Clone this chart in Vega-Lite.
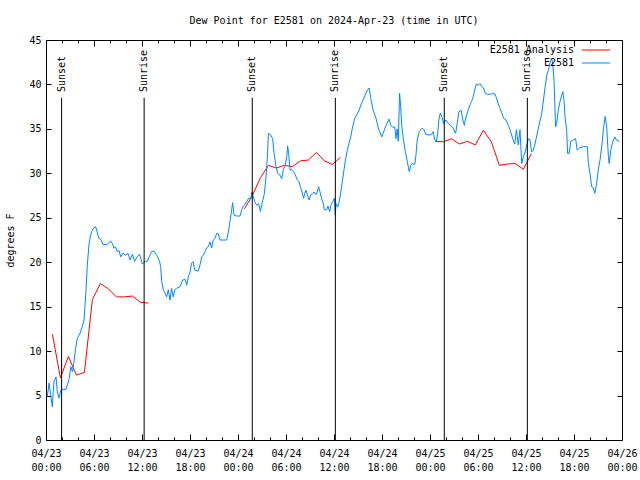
{
"$schema": "https://vega.github.io/schema/vega-lite/v6.json",
"width": 576, "height": 400,
"autosize": "none",
"padding": {"left": 46, "top": 40, "right": 18, "bottom": 40},
"background": "white",
"title": {"text": "Dew Point for E2581 on 2024-Apr-23 (time in UTC)", "font": "DejaVu Sans Mono", "fontSize": 10, "fontWeight": "normal", "color": "black", "offset": 9, "anchor": "middle"},
"config": {"view": {"stroke": "black", "strokeWidth": 1}, "font": "DejaVu Sans Mono",
  "axis": {"labelFont": "DejaVu Sans Mono", "labelFontSize": 10, "labelColor": "black", "titleFont": "DejaVu Sans Mono", "titleFontSize": 10, "titleFontWeight": "normal", "titleColor": "black", "domain": false, "grid": false, "tickColor": "black", "tickWidth": 1}},
"datasets": {
"ana": [
{"t":"2024-04-23T00:48Z","v":11.9,"seg":1},{"t":"2024-04-23T01:48Z","v":7.0,"seg":1},{"t":"2024-04-23T02:48Z","v":9.4,"seg":1},{"t":"2024-04-23T03:48Z","v":7.3,"seg":1},{"t":"2024-04-23T04:48Z","v":7.6,"seg":1},{"t":"2024-04-23T05:48Z","v":15.8,"seg":1},{"t":"2024-04-23T06:48Z","v":17.6,"seg":1},{"t":"2024-04-23T07:48Z","v":17.0,"seg":1},{"t":"2024-04-23T08:48Z","v":16.1,"seg":1},{"t":"2024-04-23T09:48Z","v":16.1,"seg":1},{"t":"2024-04-23T10:48Z","v":16.2,"seg":1},{"t":"2024-04-23T11:48Z","v":15.5,"seg":1},{"t":"2024-04-23T12:48Z","v":15.4,"seg":1},
{"t":"2024-04-24T00:48Z","v":26.0,"seg":2},{"t":"2024-04-24T01:48Z","v":27.5,"seg":2},{"t":"2024-04-24T02:48Z","v":29.5,"seg":2},{"t":"2024-04-24T03:48Z","v":30.9,"seg":2},{"t":"2024-04-24T04:48Z","v":30.6,"seg":2},{"t":"2024-04-24T05:48Z","v":30.9,"seg":2},{"t":"2024-04-24T06:48Z","v":30.75,"seg":2},{"t":"2024-04-24T07:48Z","v":31.4,"seg":2},{"t":"2024-04-24T08:48Z","v":31.5,"seg":2},{"t":"2024-04-24T09:48Z","v":32.35,"seg":2},{"t":"2024-04-24T10:48Z","v":31.4,"seg":2},{"t":"2024-04-24T11:48Z","v":31.0,"seg":2},{"t":"2024-04-24T12:48Z","v":31.8,"seg":2},
{"t":"2024-04-25T00:40Z","v":33.6,"seg":3},{"t":"2024-04-25T01:40Z","v":33.55,"seg":3},{"t":"2024-04-25T02:40Z","v":33.9,"seg":3},{"t":"2024-04-25T03:40Z","v":33.3,"seg":3},{"t":"2024-04-25T04:40Z","v":33.6,"seg":3},{"t":"2024-04-25T05:40Z","v":33.2,"seg":3},{"t":"2024-04-25T06:40Z","v":34.85,"seg":3},{"t":"2024-04-25T07:40Z","v":33.55,"seg":3},{"t":"2024-04-25T08:40Z","v":30.9,"seg":3},{"t":"2024-04-25T09:40Z","v":31.05,"seg":3},{"t":"2024-04-25T10:40Z","v":31.1,"seg":3},{"t":"2024-04-25T11:40Z","v":30.45,"seg":3},{"t":"2024-04-25T12:40Z","v":32.2,"seg":3}
],
"obs": [
{"t":"2024-04-23T00:10Z","v":4.9},{"t":"2024-04-23T00:23Z","v":6.4},{"t":"2024-04-23T00:35Z","v":5.1},{"t":"2024-04-23T00:47Z","v":3.75},{"t":"2024-04-23T01:00Z","v":6.6},{"t":"2024-04-23T01:15Z","v":7.1},{"t":"2024-04-23T01:25Z","v":5.4},{"t":"2024-04-23T01:38Z","v":4.7},{"t":"2024-04-23T01:50Z","v":5.6},{"t":"2024-04-23T02:02Z","v":5.7},{"t":"2024-04-23T02:30Z","v":5.7},{"t":"2024-04-23T02:40Z","v":6.2},{"t":"2024-04-23T02:54Z","v":6.9},{"t":"2024-04-23T03:06Z","v":8.25},{"t":"2024-04-23T03:18Z","v":7.7},{"t":"2024-04-23T03:30Z","v":8.8},{"t":"2024-04-23T03:42Z","v":10.3},{"t":"2024-04-23T03:54Z","v":11.4},{"t":"2024-04-23T04:15Z","v":12.0},{"t":"2024-04-23T04:32Z","v":12.75},{"t":"2024-04-23T04:45Z","v":13.5},{"t":"2024-04-23T04:58Z","v":16.3},{"t":"2024-04-23T05:10Z","v":19.7},{"t":"2024-04-23T05:23Z","v":22.1},{"t":"2024-04-23T05:35Z","v":23.1},{"t":"2024-04-23T05:47Z","v":23.6},{"t":"2024-04-23T06:00Z","v":23.9},{"t":"2024-04-23T06:12Z","v":24.0},{"t":"2024-04-23T06:24Z","v":23.4},{"t":"2024-04-23T06:36Z","v":22.7},{"t":"2024-04-23T06:54Z","v":22.5},{"t":"2024-04-23T07:06Z","v":22.0},{"t":"2024-04-23T07:40Z","v":22.0},{"t":"2024-04-23T08:05Z","v":22.4},{"t":"2024-04-23T08:18Z","v":22.1},{"t":"2024-04-23T08:30Z","v":21.6},{"t":"2024-04-23T08:42Z","v":21.7},{"t":"2024-04-23T08:54Z","v":21.2},{"t":"2024-04-23T09:08Z","v":21.3},{"t":"2024-04-23T09:20Z","v":20.6},{"t":"2024-04-23T09:36Z","v":21.0},{"t":"2024-04-23T09:58Z","v":20.8},{"t":"2024-04-23T10:15Z","v":21.0},{"t":"2024-04-23T10:30Z","v":20.25},{"t":"2024-04-23T10:48Z","v":20.9},{"t":"2024-04-23T11:05Z","v":20.1},{"t":"2024-04-23T11:24Z","v":20.6},{"t":"2024-04-23T11:42Z","v":20.9},{"t":"2024-04-23T12:02Z","v":19.8},{"t":"2024-04-23T12:24Z","v":20.1},{"t":"2024-04-23T12:40Z","v":20.1},{"t":"2024-04-23T12:54Z","v":20.6},{"t":"2024-04-23T13:12Z","v":21.2},{"t":"2024-04-23T13:30Z","v":21.25},{"t":"2024-04-23T13:50Z","v":20.8},{"t":"2024-04-23T14:10Z","v":20.2},{"t":"2024-04-23T14:20Z","v":19.5},{"t":"2024-04-23T14:28Z","v":17.8},{"t":"2024-04-23T14:40Z","v":16.9},{"t":"2024-04-23T14:53Z","v":16.5},{"t":"2024-04-23T15:05Z","v":16.1},{"t":"2024-04-23T15:17Z","v":16.9},{"t":"2024-04-23T15:30Z","v":15.75},{"t":"2024-04-23T15:42Z","v":17.05},{"t":"2024-04-23T15:54Z","v":16.1},{"t":"2024-04-23T16:06Z","v":16.9},{"t":"2024-04-23T16:18Z","v":17.05},{"t":"2024-04-23T16:45Z","v":17.25},{"t":"2024-04-23T17:05Z","v":18.0},{"t":"2024-04-23T17:23Z","v":18.07},{"t":"2024-04-23T17:36Z","v":17.4},{"t":"2024-04-23T17:48Z","v":18.4},{"t":"2024-04-23T18:00Z","v":18.9},{"t":"2024-04-23T18:12Z","v":19.9},{"t":"2024-04-23T18:24Z","v":20.05},{"t":"2024-04-23T18:36Z","v":19.1},{"t":"2024-04-23T19:03Z","v":19.0},{"t":"2024-04-23T19:15Z","v":19.7},{"t":"2024-04-23T19:28Z","v":20.6},{"t":"2024-04-23T19:40Z","v":20.8},{"t":"2024-04-23T19:53Z","v":21.2},{"t":"2024-04-23T20:05Z","v":21.6},{"t":"2024-04-23T20:18Z","v":21.75},{"t":"2024-04-23T20:30Z","v":22.3},{"t":"2024-04-23T20:42Z","v":21.6},{"t":"2024-04-23T20:54Z","v":22.5},{"t":"2024-04-23T21:08Z","v":22.7},{"t":"2024-04-23T21:20Z","v":23.25},{"t":"2024-04-23T21:32Z","v":23.2},{"t":"2024-04-23T21:45Z","v":22.5},{"t":"2024-04-23T22:35Z","v":22.5},{"t":"2024-04-23T22:48Z","v":23.4},{"t":"2024-04-23T23:00Z","v":24.6},{"t":"2024-04-23T23:12Z","v":25.9},{"t":"2024-04-23T23:20Z","v":26.7},{"t":"2024-04-23T23:30Z","v":25.3},{"t":"2024-04-23T23:50Z","v":25.2},
{"t":"2024-04-24T00:15Z","v":25.2},{"t":"2024-04-24T00:28Z","v":25.9},{"t":"2024-04-24T00:40Z","v":26.3},{"t":"2024-04-24T00:47Z","v":26.4},{"t":"2024-04-24T01:05Z","v":26.8},{"t":"2024-04-24T01:20Z","v":27.2},{"t":"2024-04-24T01:36Z","v":27.2},{"t":"2024-04-24T01:45Z","v":27.9},{"t":"2024-04-24T01:54Z","v":27.4},{"t":"2024-04-24T02:06Z","v":26.8},{"t":"2024-04-24T02:20Z","v":26.4},{"t":"2024-04-24T02:35Z","v":26.6},{"t":"2024-04-24T02:48Z","v":25.7},{"t":"2024-04-24T03:00Z","v":26.6},{"t":"2024-04-24T03:18Z","v":27.75},{"t":"2024-04-24T03:30Z","v":29.6},{"t":"2024-04-24T03:42Z","v":32.25},{"t":"2024-04-24T03:48Z","v":34.5},{"t":"2024-04-24T04:06Z","v":34.3},{"t":"2024-04-24T04:20Z","v":33.9},{"t":"2024-04-24T04:30Z","v":32.25},{"t":"2024-04-24T04:45Z","v":30.75},{"t":"2024-04-24T04:58Z","v":30.0},{"t":"2024-04-24T05:15Z","v":29.8},{"t":"2024-04-24T05:28Z","v":29.4},{"t":"2024-04-24T05:40Z","v":30.4},{"t":"2024-04-24T05:54Z","v":30.9},{"t":"2024-04-24T06:06Z","v":31.9},{"t":"2024-04-24T06:12Z","v":33.1},{"t":"2024-04-24T06:20Z","v":32.25},{"t":"2024-04-24T06:30Z","v":30.4},{"t":"2024-04-24T06:45Z","v":30.4},{"t":"2024-04-24T06:58Z","v":30.2},{"t":"2024-04-24T07:10Z","v":29.8},{"t":"2024-04-24T07:24Z","v":29.3},{"t":"2024-04-24T07:36Z","v":29.1},{"t":"2024-04-24T07:48Z","v":28.5},{"t":"2024-04-24T08:00Z","v":27.9},{"t":"2024-04-24T08:12Z","v":27.2},{"t":"2024-04-24T08:20Z","v":27.75},{"t":"2024-04-24T08:30Z","v":28.1},{"t":"2024-04-24T08:40Z","v":27.6},{"t":"2024-04-24T08:54Z","v":27.0},{"t":"2024-04-24T09:06Z","v":27.6},{"t":"2024-04-24T09:20Z","v":27.75},{"t":"2024-04-24T09:30Z","v":27.9},{"t":"2024-04-24T09:45Z","v":27.6},{"t":"2024-04-24T09:53Z","v":27.9},{"t":"2024-04-24T10:05Z","v":28.5},{"t":"2024-04-24T10:15Z","v":27.9},{"t":"2024-04-24T10:30Z","v":27.0},{"t":"2024-04-24T10:40Z","v":26.6},{"t":"2024-04-24T10:47Z","v":25.9},{"t":"2024-04-24T11:05Z","v":25.9},{"t":"2024-04-24T11:15Z","v":26.3},{"t":"2024-04-24T11:28Z","v":25.7},{"t":"2024-04-24T11:36Z","v":26.4},{"t":"2024-04-24T11:50Z","v":26.8},{"t":"2024-04-24T12:02Z","v":27.2},{"t":"2024-04-24T12:10Z","v":25.3},{"t":"2024-04-24T12:15Z","v":26.6},{"t":"2024-04-24T12:28Z","v":26.2},{"t":"2024-04-24T12:36Z","v":26.6},{"t":"2024-04-24T12:50Z","v":27.75},{"t":"2024-04-24T13:02Z","v":29.06},{"t":"2024-04-24T13:15Z","v":30.4},{"t":"2024-04-24T13:28Z","v":31.7},{"t":"2024-04-24T13:40Z","v":32.6},{"t":"2024-04-24T13:53Z","v":33.4},{"t":"2024-04-24T14:05Z","v":34.1},{"t":"2024-04-24T14:18Z","v":35.1},{"t":"2024-04-24T14:36Z","v":36.2},{"t":"2024-04-24T15:02Z","v":36.9},{"t":"2024-04-24T15:28Z","v":37.9},{"t":"2024-04-24T15:53Z","v":38.8},{"t":"2024-04-24T16:12Z","v":39.4},{"t":"2024-04-24T16:24Z","v":39.6},{"t":"2024-04-24T16:36Z","v":38.4},{"t":"2024-04-24T16:54Z","v":37.1},{"t":"2024-04-24T17:15Z","v":36.2},{"t":"2024-04-24T17:32Z","v":35.1},{"t":"2024-04-24T17:58Z","v":34.1},{"t":"2024-04-24T18:18Z","v":34.9},{"t":"2024-04-24T18:36Z","v":35.6},{"t":"2024-04-24T18:53Z","v":36.1},{"t":"2024-04-24T19:06Z","v":35.4},{"t":"2024-04-24T19:18Z","v":35.2},{"t":"2024-04-24T19:36Z","v":35.2},{"t":"2024-04-24T19:45Z","v":33.9},{"t":"2024-04-24T19:54Z","v":35.0},{"t":"2024-04-24T20:02Z","v":33.6},{"t":"2024-04-24T20:12Z","v":39.0},{"t":"2024-04-24T20:20Z","v":37.5},{"t":"2024-04-24T20:28Z","v":35.4},{"t":"2024-04-24T20:40Z","v":33.9},{"t":"2024-04-24T20:53Z","v":32.6},{"t":"2024-04-24T21:10Z","v":31.3},{"t":"2024-04-24T21:24Z","v":30.2},{"t":"2024-04-24T21:36Z","v":30.9},{"t":"2024-04-24T21:45Z","v":31.1},{"t":"2024-04-24T22:06Z","v":31.0},{"t":"2024-04-24T22:15Z","v":32.1},{"t":"2024-04-24T22:24Z","v":33.75},{"t":"2024-04-24T22:40Z","v":34.7},{"t":"2024-04-24T23:02Z","v":35.1},{"t":"2024-04-24T23:15Z","v":34.9},{"t":"2024-04-24T23:28Z","v":34.4},{"t":"2024-04-24T23:53Z","v":34.3},
{"t":"2024-04-25T00:12Z","v":34.4},{"t":"2024-04-25T00:24Z","v":34.7},{"t":"2024-04-25T00:36Z","v":33.75},{"t":"2024-04-25T00:48Z","v":33.6},{"t":"2024-04-25T00:58Z","v":34.5},{"t":"2024-04-25T01:06Z","v":36.0},{"t":"2024-04-25T01:18Z","v":36.8},{"t":"2024-04-25T01:30Z","v":36.3},{"t":"2024-04-25T01:42Z","v":35.6},{"t":"2024-04-25T01:58Z","v":36.0},{"t":"2024-04-25T02:18Z","v":35.6},{"t":"2024-04-25T02:36Z","v":35.4},{"t":"2024-04-25T02:54Z","v":35.05},{"t":"2024-04-25T03:12Z","v":34.5},{"t":"2024-04-25T03:24Z","v":35.6},{"t":"2024-04-25T03:36Z","v":36.9},{"t":"2024-04-25T03:54Z","v":37.1},{"t":"2024-04-25T04:06Z","v":36.0},{"t":"2024-04-25T04:18Z","v":35.4},{"t":"2024-04-25T04:24Z","v":36.0},{"t":"2024-04-25T04:36Z","v":36.6},{"t":"2024-04-25T04:48Z","v":37.2},{"t":"2024-04-25T05:00Z","v":37.7},{"t":"2024-04-25T05:12Z","v":38.1},{"t":"2024-04-25T05:24Z","v":38.6},{"t":"2024-04-25T05:36Z","v":39.4},{"t":"2024-04-25T05:48Z","v":40.05},{"t":"2024-04-25T06:02Z","v":39.9},{"t":"2024-04-25T06:15Z","v":40.1},{"t":"2024-04-25T06:30Z","v":39.75},{"t":"2024-04-25T06:42Z","v":39.6},{"t":"2024-04-25T06:54Z","v":39.0},{"t":"2024-04-25T07:12Z","v":38.9},{"t":"2024-04-25T07:30Z","v":38.9},{"t":"2024-04-25T07:42Z","v":38.95},{"t":"2024-04-25T08:06Z","v":38.95},{"t":"2024-04-25T08:18Z","v":38.5},{"t":"2024-04-25T08:30Z","v":37.9},{"t":"2024-04-25T08:45Z","v":37.3},{"t":"2024-04-25T08:58Z","v":36.8},{"t":"2024-04-25T09:12Z","v":36.2},{"t":"2024-04-25T09:30Z","v":36.0},{"t":"2024-04-25T09:48Z","v":35.4},{"t":"2024-04-25T10:00Z","v":34.9},{"t":"2024-04-25T10:12Z","v":34.3},{"t":"2024-04-25T10:24Z","v":33.75},{"t":"2024-04-25T10:36Z","v":33.3},{"t":"2024-04-25T10:48Z","v":34.9},{"t":"2024-04-25T11:02Z","v":33.2},{"t":"2024-04-25T11:15Z","v":34.9},{"t":"2024-04-25T11:28Z","v":31.1},{"t":"2024-04-25T11:40Z","v":31.9},{"t":"2024-04-25T11:54Z","v":32.4},{"t":"2024-04-25T12:06Z","v":33.2},{"t":"2024-04-25T12:18Z","v":33.9},{"t":"2024-04-25T12:30Z","v":33.75},{"t":"2024-04-25T12:42Z","v":32.4},{"t":"2024-04-25T12:54Z","v":32.6},{"t":"2024-04-25T13:06Z","v":33.2},{"t":"2024-04-25T13:30Z","v":34.9},{"t":"2024-04-25T13:58Z","v":36.75},{"t":"2024-04-25T14:24Z","v":39.75},{"t":"2024-04-25T14:36Z","v":41.06},{"t":"2024-04-25T14:48Z","v":41.6},{"t":"2024-04-25T15:00Z","v":42.4},{"t":"2024-04-25T15:12Z","v":42.9},{"t":"2024-04-25T15:20Z","v":42.4},{"t":"2024-04-25T15:30Z","v":40.5},{"t":"2024-04-25T15:42Z","v":35.25},{"t":"2024-04-25T15:50Z","v":35.6},{"t":"2024-04-25T16:02Z","v":37.1},{"t":"2024-04-25T16:15Z","v":38.06},{"t":"2024-04-25T16:28Z","v":38.8},{"t":"2024-04-25T16:36Z","v":39.2},{"t":"2024-04-25T16:45Z","v":38.2},{"t":"2024-04-25T16:53Z","v":36.3},{"t":"2024-04-25T17:05Z","v":34.9},{"t":"2024-04-25T17:12Z","v":32.25},{"t":"2024-04-25T17:24Z","v":32.25},{"t":"2024-04-25T17:36Z","v":33.6},{"t":"2024-04-25T17:54Z","v":33.75},{"t":"2024-04-25T18:12Z","v":33.9},{"t":"2024-04-25T18:24Z","v":32.6},{"t":"2024-04-25T18:45Z","v":32.9},{"t":"2024-04-25T19:12Z","v":33.0},{"t":"2024-04-25T19:40Z","v":33.0},{"t":"2024-04-25T19:48Z","v":31.1},{"t":"2024-04-25T20:00Z","v":30.0},{"t":"2024-04-25T20:12Z","v":28.5},{"t":"2024-04-25T20:24Z","v":28.4},{"t":"2024-04-25T20:36Z","v":27.75},{"t":"2024-04-25T20:50Z","v":28.9},{"t":"2024-04-25T21:02Z","v":30.4},{"t":"2024-04-25T21:15Z","v":31.5},{"t":"2024-04-25T21:28Z","v":33.0},{"t":"2024-04-25T21:40Z","v":34.9},{"t":"2024-04-25T21:53Z","v":36.4},{"t":"2024-04-25T22:05Z","v":35.25},{"t":"2024-04-25T22:18Z","v":31.9},{"t":"2024-04-25T22:24Z","v":31.1},{"t":"2024-04-25T22:36Z","v":32.6},{"t":"2024-04-25T22:48Z","v":33.4},{"t":"2024-04-25T23:06Z","v":34.1},{"t":"2024-04-25T23:18Z","v":33.75},{"t":"2024-04-25T23:40Z","v":33.6}
],
"sun": [
{"t":"2024-04-23T01:57Z","label":"Sunset"},{"t":"2024-04-23T12:16Z","label":"Sunrise"},{"t":"2024-04-24T01:47Z","label":"Sunset"},{"t":"2024-04-24T12:10Z","label":"Sunrise"},{"t":"2024-04-25T01:47Z","label":"Sunset"},{"t":"2024-04-25T12:10Z","label":"Sunrise"}
]
},
"resolve": {"axis": {"x": "independent", "y": "independent"}},
"layer": [
{
 "data": {"name": "ana"},
 "mark": {"type": "line", "strokeWidth": 1},
 "encoding": {
  "x": {"field": "t", "type": "temporal",
   "scale": {"type": "utc", "domain": [{"year": 2024, "month": 4, "date": 23, "hours": 0, "utc": true}, {"year": 2024, "month": 4, "date": 26, "hours": 0, "utc": true}]},
   "axis": {"orient": "bottom", "title": null,
    "values": [{"year":2024,"month":4,"date":23,"hours":0,"utc":true},{"year":2024,"month":4,"date":23,"hours":6,"utc":true},{"year":2024,"month":4,"date":23,"hours":12,"utc":true},{"year":2024,"month":4,"date":23,"hours":18,"utc":true},{"year":2024,"month":4,"date":24,"hours":0,"utc":true},{"year":2024,"month":4,"date":24,"hours":6,"utc":true},{"year":2024,"month":4,"date":24,"hours":12,"utc":true},{"year":2024,"month":4,"date":24,"hours":18,"utc":true},{"year":2024,"month":4,"date":25,"hours":0,"utc":true},{"year":2024,"month":4,"date":25,"hours":6,"utc":true},{"year":2024,"month":4,"date":25,"hours":12,"utc":true},{"year":2024,"month":4,"date":25,"hours":18,"utc":true},{"year":2024,"month":4,"date":26,"hours":0,"utc":true}],
    "tickSize": -6, "labelPadding": 14, "labelLineHeight": 14, "labelBaseline": "top", "labelAlign": "center", "labelOverlap": false, "labelFlush": false,
    "labelExpr": "[utcFormat(datum.value, '%m/%d'), utcFormat(datum.value, '%H:%M')]"}},
  "y": {"field": "v", "type": "quantitative",
   "scale": {"domain": [0, 45], "nice": false, "zero": false},
   "axis": {"orient": "left", "title": "degrees F", "values": [0,5,10,15,20,25,30,35,40,45], "tickSize": -5, "labelPadding": 10, "titlePadding": 13}},
  "detail": {"field": "seg"},
  "color": {"datum": "E2581 Analysis", "type": "nominal",
   "scale": {"domain": ["E2581 Analysis", "E2581"], "range": ["#ff0000", "#0088ff"]},
   "legend": {"title": null, "orient": "none", "legendX": 545, "legendY": 5, "symbolType": "M-4.7,0H4.7", "symbolSize": 36, "symbolStrokeWidth": 1, "labelAlign": "right", "labelOffset": -27, "labelFont": "DejaVu Sans Mono", "labelFontSize": 10, "labelColor": "black", "rowPadding": 3, "padding": 0}}
 }
},
{
 "data": {"name": "obs"},
 "mark": {"type": "line", "strokeWidth": 1},
 "encoding": {
  "x": {"field": "t", "type": "temporal",
   "axis": {"orient": "bottom", "title": null, "labels": false, "tickSize": -3,
    "values": [{"year":2024,"month":4,"date":23,"hours":2,"utc":true},{"year":2024,"month":4,"date":23,"hours":4,"utc":true},{"year":2024,"month":4,"date":23,"hours":8,"utc":true},{"year":2024,"month":4,"date":23,"hours":10,"utc":true},{"year":2024,"month":4,"date":23,"hours":14,"utc":true},{"year":2024,"month":4,"date":23,"hours":16,"utc":true},{"year":2024,"month":4,"date":23,"hours":20,"utc":true},{"year":2024,"month":4,"date":23,"hours":22,"utc":true},{"year":2024,"month":4,"date":24,"hours":2,"utc":true},{"year":2024,"month":4,"date":24,"hours":4,"utc":true},{"year":2024,"month":4,"date":24,"hours":8,"utc":true},{"year":2024,"month":4,"date":24,"hours":10,"utc":true},{"year":2024,"month":4,"date":24,"hours":14,"utc":true},{"year":2024,"month":4,"date":24,"hours":16,"utc":true},{"year":2024,"month":4,"date":24,"hours":20,"utc":true},{"year":2024,"month":4,"date":24,"hours":22,"utc":true},{"year":2024,"month":4,"date":25,"hours":2,"utc":true},{"year":2024,"month":4,"date":25,"hours":4,"utc":true},{"year":2024,"month":4,"date":25,"hours":8,"utc":true},{"year":2024,"month":4,"date":25,"hours":10,"utc":true},{"year":2024,"month":4,"date":25,"hours":14,"utc":true},{"year":2024,"month":4,"date":25,"hours":16,"utc":true},{"year":2024,"month":4,"date":25,"hours":20,"utc":true},{"year":2024,"month":4,"date":25,"hours":22,"utc":true}]}},
  "y": {"field": "v", "type": "quantitative",
   "axis": {"orient": "right", "title": null, "labels": false, "values": [0,5,10,15,20,25,30,35,40,45], "tickSize": -5}},
  "color": {"datum": "E2581", "type": "nominal"}
 }
},
{
 "data": {"name": "sun"},
 "mark": {"type": "rule", "color": "black", "strokeWidth": 1},
 "encoding": {
  "x": {"field": "t", "type": "temporal",
   "axis": {"orient": "top", "title": null, "labels": false, "tickSize": -6,
    "values": [{"year":2024,"month":4,"date":23,"hours":6,"utc":true},{"year":2024,"month":4,"date":23,"hours":12,"utc":true},{"year":2024,"month":4,"date":23,"hours":18,"utc":true},{"year":2024,"month":4,"date":24,"hours":0,"utc":true},{"year":2024,"month":4,"date":24,"hours":6,"utc":true},{"year":2024,"month":4,"date":24,"hours":12,"utc":true},{"year":2024,"month":4,"date":24,"hours":18,"utc":true},{"year":2024,"month":4,"date":25,"hours":0,"utc":true},{"year":2024,"month":4,"date":25,"hours":6,"utc":true},{"year":2024,"month":4,"date":25,"hours":12,"utc":true},{"year":2024,"month":4,"date":25,"hours":18,"utc":true}]}},
  "y": {"datum": 0, "type": "quantitative", "axis": null},
  "y2": {"datum": 38.5}
 }
},
{
 "data": {"name": "sun"},
 "mark": {"type": "text", "angle": 270, "align": "left", "baseline": "middle", "font": "DejaVu Sans Mono", "fontSize": 10, "color": "black"},
 "encoding": {
  "x": {"field": "t", "type": "temporal",
   "axis": {"orient": "top", "title": null, "labels": false, "tickSize": -3,
    "values": [{"year":2024,"month":4,"date":23,"hours":2,"utc":true},{"year":2024,"month":4,"date":23,"hours":4,"utc":true},{"year":2024,"month":4,"date":23,"hours":8,"utc":true},{"year":2024,"month":4,"date":23,"hours":10,"utc":true},{"year":2024,"month":4,"date":23,"hours":14,"utc":true},{"year":2024,"month":4,"date":23,"hours":16,"utc":true},{"year":2024,"month":4,"date":23,"hours":20,"utc":true},{"year":2024,"month":4,"date":23,"hours":22,"utc":true},{"year":2024,"month":4,"date":24,"hours":2,"utc":true},{"year":2024,"month":4,"date":24,"hours":4,"utc":true},{"year":2024,"month":4,"date":24,"hours":8,"utc":true},{"year":2024,"month":4,"date":24,"hours":10,"utc":true},{"year":2024,"month":4,"date":24,"hours":14,"utc":true},{"year":2024,"month":4,"date":24,"hours":16,"utc":true},{"year":2024,"month":4,"date":24,"hours":20,"utc":true},{"year":2024,"month":4,"date":24,"hours":22,"utc":true},{"year":2024,"month":4,"date":25,"hours":2,"utc":true},{"year":2024,"month":4,"date":25,"hours":4,"utc":true},{"year":2024,"month":4,"date":25,"hours":8,"utc":true},{"year":2024,"month":4,"date":25,"hours":10,"utc":true},{"year":2024,"month":4,"date":25,"hours":14,"utc":true},{"year":2024,"month":4,"date":25,"hours":16,"utc":true},{"year":2024,"month":4,"date":25,"hours":20,"utc":true},{"year":2024,"month":4,"date":25,"hours":22,"utc":true}]}},
  "y": {"datum": 39.15, "type": "quantitative", "axis": null},
  "text": {"field": "label"}
 }
}
]
}
